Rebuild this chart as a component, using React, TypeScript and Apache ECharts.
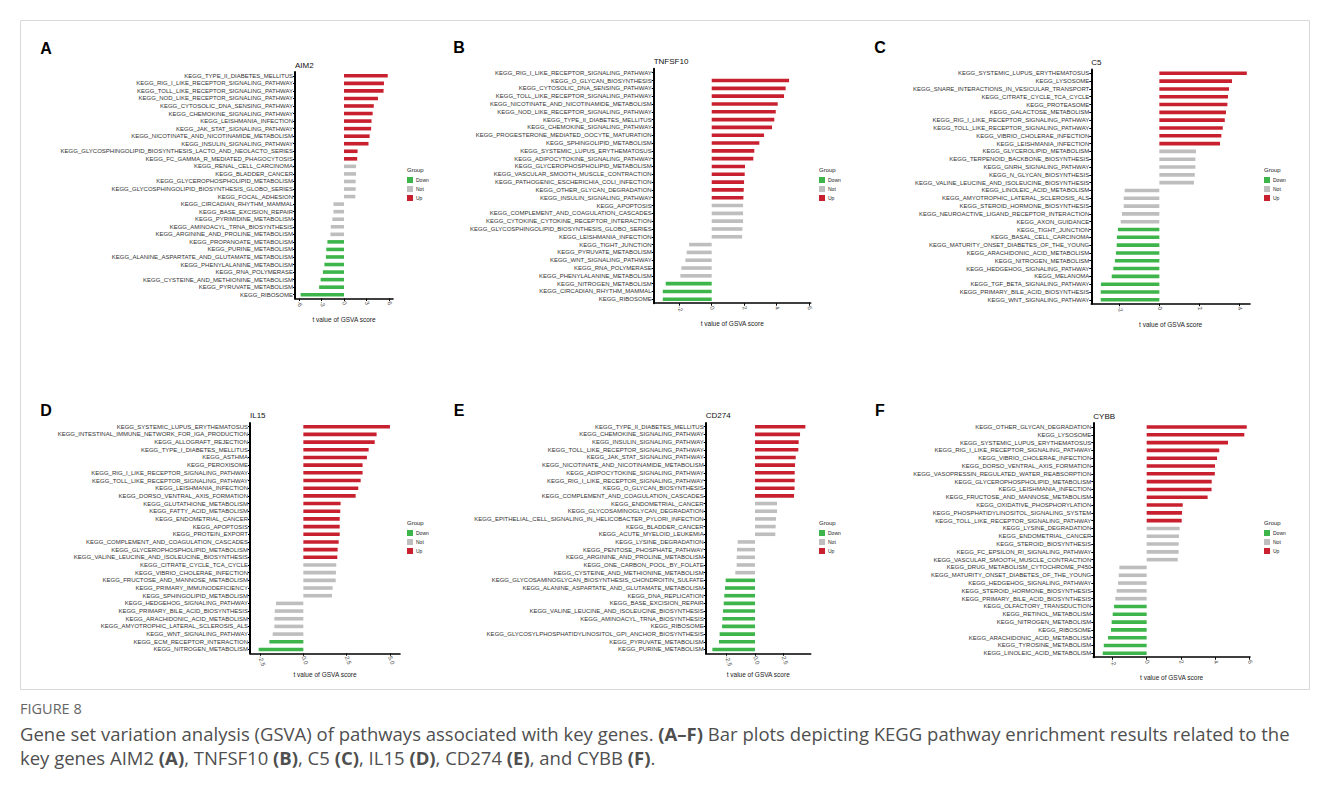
import React, { useEffect, useRef } from 'react';
import * as echarts from 'echarts';

// ---------------- DATA ----------------
const labelsA = [
  'KEGG_TYPE_II_DIABETES_MELLITUS', 'KEGG_RIG_I_LIKE_RECEPTOR_SIGNALING_PATHWAY', 'KEGG_TOLL_LIKE_RECEPTOR_SIGNALING_PATHWAY',
  'KEGG_NOD_LIKE_RECEPTOR_SIGNALING_PATHWAY', 'KEGG_CYTOSOLIC_DNA_SENSING_PATHWAY', 'KEGG_CHEMOKINE_SIGNALING_PATHWAY',
  'KEGG_LEISHMANIA_INFECTION', 'KEGG_JAK_STAT_SIGNALING_PATHWAY', 'KEGG_NICOTINATE_AND_NICOTINAMIDE_METABOLISM',
  'KEGG_INSULIN_SIGNALING_PATHWAY', 'KEGG_GLYCOSPHINGOLIPID_BIOSYNTHESIS_LACTO_AND_NEOLACTO_SERIES', 'KEGG_FC_GAMMA_R_MEDIATED_PHAGOCYTOSIS',
  'KEGG_RENAL_CELL_CARCINOMA', 'KEGG_BLADDER_CANCER', 'KEGG_GLYCEROPHOSPHOLIPID_METABOLISM',
  'KEGG_GLYCOSPHINGOLIPID_BIOSYNTHESIS_GLOBO_SERIES', 'KEGG_FOCAL_ADHESION', 'KEGG_CIRCADIAN_RHYTHM_MAMMAL',
  'KEGG_BASE_EXCISION_REPAIR', 'KEGG_PYRIMIDINE_METABOLISM', 'KEGG_AMINOACYL_TRNA_BIOSYNTHESIS',
  'KEGG_ARGININE_AND_PROLINE_METABOLISM', 'KEGG_PROPANOATE_METABOLISM', 'KEGG_PURINE_METABOLISM',
  'KEGG_ALANINE_ASPARTATE_AND_GLUTAMATE_METABOLISM', 'KEGG_PHENYLALANINE_METABOLISM', 'KEGG_RNA_POLYMERASE',
  'KEGG_CYSTEINE_AND_METHIONINE_METABOLISM', 'KEGG_PYRUVATE_METABOLISM', 'KEGG_RIBOSOME',
];
const valuesA = [5.8, 5.3, 5.25, 4.5, 3.95, 3.8, 3.65, 3.6, 3.4, 3.25, 1.8, 1.75, 1.6, 1.6, 1.55, 1.55, 1.5,
  -1.4, -1.4, -1.55, -1.75, -1.8, -2.2, -2.35, -2.4, -2.6, -2.8, -3.1, -3.3, -5.75];
const groupsA = 'UUUUUUUUUUUUNNNNNNNNNNDDDDDDDD';

const labelsB = [
  'KEGG_RIG_I_LIKE_RECEPTOR_SIGNALING_PATHWAY', 'KEGG_O_GLYCAN_BIOSYNTHESIS', 'KEGG_CYTOSOLIC_DNA_SENSING_PATHWAY',
  'KEGG_TOLL_LIKE_RECEPTOR_SIGNALING_PATHWAY', 'KEGG_NICOTINATE_AND_NICOTINAMIDE_METABOLISM', 'KEGG_NOD_LIKE_RECEPTOR_SIGNALING_PATHWAY',
  'KEGG_TYPE_II_DIABETES_MELLITUS', 'KEGG_CHEMOKINE_SIGNALING_PATHWAY', 'KEGG_PROGESTERONE_MEDIATED_OOCYTE_MATURATION',
  'KEGG_SPHINGOLIPID_METABOLISM', 'KEGG_SYSTEMIC_LUPUS_ERYTHEMATOSUS', 'KEGG_ADIPOCYTOKINE_SIGNALING_PATHWAY',
  'KEGG_GLYCEROPHOSPHOLIPID_METABOLISM', 'KEGG_VASCULAR_SMOOTH_MUSCLE_CONTRACTION', 'KEGG_PATHOGENIC_ESCHERICHIA_COLI_INFECTION',
  'KEGG_OTHER_GLYCAN_DEGRADATION', 'KEGG_INSULIN_SIGNALING_PATHWAY', 'KEGG_APOPTOSIS',
  'KEGG_COMPLEMENT_AND_COAGULATION_CASCADES', 'KEGG_CYTOKINE_CYTOKINE_RECEPTOR_INTERACTION', 'KEGG_GLYCOSPHINGOLIPID_BIOSYNTHESIS_GLOBO_SERIES',
  'KEGG_LEISHMANIA_INFECTION', 'KEGG_TIGHT_JUNCTION', 'KEGG_PYRUVATE_METABOLISM',
  'KEGG_WNT_SIGNALING_PATHWAY', 'KEGG_RNA_POLYMERASE', 'KEGG_PHENYLALANINE_METABOLISM',
  'KEGG_NITROGEN_METABOLISM', 'KEGG_CIRCADIAN_RHYTHM_MAMMAL', 'KEGG_RIBOSOME',
];
// first bar lies beyond the axis limit and is not drawn in the source figure
const valuesB = [null, 4.76, 4.55, 4.45, 4.06, 3.94, 3.85, 3.71, 3.22, 2.93, 2.62, 2.56, 2.05, 2.03, 1.99, 1.97, 1.95,
  1.93, 1.93, 1.93, 1.89, 1.87, -1.39, -1.54, -1.62, -1.87, -1.93, -2.83, -3.01, -3.01];
const groupsB = 'UUUUUUUUUUUUUUUUUNNNNNNNNNNDDD';

const labelsC = [
  'KEGG_SYSTEMIC_LUPUS_ERYTHEMATOSUS', 'KEGG_LYSOSOME', 'KEGG_SNARE_INTERACTIONS_IN_VESICULAR_TRANSPORT',
  'KEGG_CITRATE_CYCLE_TCA_CYCLE', 'KEGG_PROTEASOME', 'KEGG_GALACTOSE_METABOLISM',
  'KEGG_RIG_I_LIKE_RECEPTOR_SIGNALING_PATHWAY', 'KEGG_TOLL_LIKE_RECEPTOR_SIGNALING_PATHWAY', 'KEGG_VIBRIO_CHOLERAE_INFECTION',
  'KEGG_LEISHMANIA_INFECTION', 'KEGG_GLYCEROLIPID_METABOLISM', 'KEGG_TERPENOID_BACKBONE_BIOSYNTHESIS',
  'KEGG_GNRH_SIGNALING_PATHWAY', 'KEGG_N_GLYCAN_BIOSYNTHESIS', 'KEGG_VALINE_LEUCINE_AND_ISOLEUCINE_BIOSYNTHESIS',
  'KEGG_LINOLEIC_ACID_METABOLISM', 'KEGG_AMYOTROPHIC_LATERAL_SCLEROSIS_ALS', 'KEGG_STEROID_HORMONE_BIOSYNTHESIS',
  'KEGG_NEUROACTIVE_LIGAND_RECEPTOR_INTERACTION', 'KEGG_AXON_GUIDANCE', 'KEGG_TIGHT_JUNCTION',
  'KEGG_BASAL_CELL_CARCINOMA', 'KEGG_MATURITY_ONSET_DIABETES_OF_THE_YOUNG', 'KEGG_ARACHIDONIC_ACID_METABOLISM',
  'KEGG_NITROGEN_METABOLISM', 'KEGG_HEDGEHOG_SIGNALING_PATHWAY', 'KEGG_MELANOMA',
  'KEGG_TGF_BETA_SIGNALING_PATHWAY', 'KEGG_PRIMARY_BILE_ACID_BIOSYNTHESIS', 'KEGG_WNT_SIGNALING_PATHWAY',
];
const valuesC = [4.37, 3.63, 3.48, 3.43, 3.4, 3.33, 3.27, 3.17, 3.1, 3.03, 1.83, 1.8, 1.8, 1.77, 1.73,
  -1.73, -1.78, -1.78, -1.87, -1.93, -2.07, -2.12, -2.13, -2.17, -2.22, -2.3, -2.38, -2.92, -2.93, -2.93];
const groupsC = 'UUUUUUUUUUNNNNNNNNNNDDDDDDDDDD';

const labelsD = [
  'KEGG_SYSTEMIC_LUPUS_ERYTHEMATOSUS', 'KEGG_INTESTINAL_IMMUNE_NETWORK_FOR_IGA_PRODUCTION', 'KEGG_ALLOGRAFT_REJECTION',
  'KEGG_TYPE_I_DIABETES_MELLITUS', 'KEGG_ASTHMA', 'KEGG_PEROXISOME',
  'KEGG_RIG_I_LIKE_RECEPTOR_SIGNALING_PATHWAY', 'KEGG_TOLL_LIKE_RECEPTOR_SIGNALING_PATHWAY', 'KEGG_LEISHMANIA_INFECTION',
  'KEGG_DORSO_VENTRAL_AXIS_FORMATION', 'KEGG_GLUTATHIONE_METABOLISM', 'KEGG_FATTY_ACID_METABOLISM',
  'KEGG_ENDOMETRIAL_CANCER', 'KEGG_APOPTOSIS', 'KEGG_PROTEIN_EXPORT',
  'KEGG_COMPLEMENT_AND_COAGULATION_CASCADES', 'KEGG_GLYCEROPHOSPHOLIPID_METABOLISM', 'KEGG_VALINE_LEUCINE_AND_ISOLEUCINE_BIOSYNTHESIS',
  'KEGG_CITRATE_CYCLE_TCA_CYCLE', 'KEGG_VIBRIO_CHOLERAE_INFECTION', 'KEGG_FRUCTOSE_AND_MANNOSE_METABOLISM',
  'KEGG_PRIMARY_IMMUNODEFICIENCY', 'KEGG_SPHINGOLIPID_METABOLISM', 'KEGG_HEDGEHOG_SIGNALING_PATHWAY',
  'KEGG_PRIMARY_BILE_ACID_BIOSYNTHESIS', 'KEGG_ARACHIDONIC_ACID_METABOLISM', 'KEGG_AMYOTROPHIC_LATERAL_SCLEROSIS_ALS',
  'KEGG_WNT_SIGNALING_PATHWAY', 'KEGG_ECM_RECEPTOR_INTERACTION', 'KEGG_NITROGEN_METABOLISM',
];
const valuesD = [5.0, 4.23, 4.12, 3.77, 3.67, 3.42, 3.42, 3.31, 3.17, 3.02, 2.15, 2.13, 2.1, 2.1, 2.1, 2.04, 1.98, 1.96,
  1.9, 1.88, 1.87, 1.69, 1.65, -1.58, -1.65, -1.67, -1.67, -1.77, -1.96, -2.58];
const groupsD = 'UUUUUUUUUUUUUUUUUUNNNNNNNNNNDD';

const labelsE = [
  'KEGG_TYPE_II_DIABETES_MELLITUS', 'KEGG_CHEMOKINE_SIGNALING_PATHWAY', 'KEGG_INSULIN_SIGNALING_PATHWAY',
  'KEGG_TOLL_LIKE_RECEPTOR_SIGNALING_PATHWAY', 'KEGG_JAK_STAT_SIGNALING_PATHWAY', 'KEGG_NICOTINATE_AND_NICOTINAMIDE_METABOLISM',
  'KEGG_ADIPOCYTOKINE_SIGNALING_PATHWAY', 'KEGG_RIG_I_LIKE_RECEPTOR_SIGNALING_PATHWAY', 'KEGG_O_GLYCAN_BIOSYNTHESIS',
  'KEGG_COMPLEMENT_AND_COAGULATION_CASCADES', 'KEGG_ENDOMETRIAL_CANCER', 'KEGG_GLYCOSAMINOGLYCAN_DEGRADATION',
  'KEGG_EPITHELIAL_CELL_SIGNALING_IN_HELICOBACTER_PYLORI_INFECTION', 'KEGG_BLADDER_CANCER', 'KEGG_ACUTE_MYELOID_LEUKEMIA',
  'KEGG_LYSINE_DEGRADATION', 'KEGG_PENTOSE_PHOSPHATE_PATHWAY', 'KEGG_ARGININE_AND_PROLINE_METABOLISM',
  'KEGG_ONE_CARBON_POOL_BY_FOLATE', 'KEGG_CYSTEINE_AND_METHIONINE_METABOLISM', 'KEGG_GLYCOSAMINOGLYCAN_BIOSYNTHESIS_CHONDROITIN_SULFATE',
  'KEGG_ALANINE_ASPARTATE_AND_GLUTAMATE_METABOLISM', 'KEGG_DNA_REPLICATION', 'KEGG_BASE_EXCISION_REPAIR',
  'KEGG_VALINE_LEUCINE_AND_ISOLEUCINE_BIOSYNTHESIS', 'KEGG_AMINOACYL_TRNA_BIOSYNTHESIS', 'KEGG_RIBOSOME',
  'KEGG_GLYCOSYLPHOSPHATIDYLINOSITOL_GPI_ANCHOR_BIOSYNTHESIS', 'KEGG_PYRUVATE_METABOLISM', 'KEGG_PURINE_METABOLISM',
];
const valuesE = [4.44, 3.97, 3.85, 3.82, 3.59, 3.53, 3.5, 3.5, 3.49, 3.44, 1.94, 1.94, 1.85, 1.82, 1.79,
  -1.53, -1.59, -1.62, -1.62, -1.74, -2.59, -2.65, -2.71, -2.76, -2.82, -2.88, -2.91, -3.12, -3.18, -3.76];
const groupsE = 'UUUUUUUUUUNNNNNNNNNNDDDDDDDDDD';

const labelsF = [
  'KEGG_OTHER_GLYCAN_DEGRADATION', 'KEGG_LYSOSOME', 'KEGG_SYSTEMIC_LUPUS_ERYTHEMATOSUS',
  'KEGG_RIG_I_LIKE_RECEPTOR_SIGNALING_PATHWAY', 'KEGG_VIBRIO_CHOLERAE_INFECTION', 'KEGG_DORSO_VENTRAL_AXIS_FORMATION',
  'KEGG_VASOPRESSIN_REGULATED_WATER_REABSORPTION', 'KEGG_GLYCEROPHOSPHOLIPID_METABOLISM', 'KEGG_LEISHMANIA_INFECTION',
  'KEGG_FRUCTOSE_AND_MANNOSE_METABOLISM', 'KEGG_OXIDATIVE_PHOSPHORYLATION', 'KEGG_PHOSPHATIDYLINOSITOL_SIGNALING_SYSTEM',
  'KEGG_TOLL_LIKE_RECEPTOR_SIGNALING_PATHWAY', 'KEGG_LYSINE_DEGRADATION', 'KEGG_ENDOMETRIAL_CANCER',
  'KEGG_STEROID_BIOSYNTHESIS', 'KEGG_FC_EPSILON_RI_SIGNALING_PATHWAY', 'KEGG_VASCULAR_SMOOTH_MUSCLE_CONTRACTION',
  'KEGG_DRUG_METABOLISM_CYTOCHROME_P450', 'KEGG_MATURITY_ONSET_DIABETES_OF_THE_YOUNG', 'KEGG_HEDGEHOG_SIGNALING_PATHWAY',
  'KEGG_STEROID_HORMONE_BIOSYNTHESIS', 'KEGG_PRIMARY_BILE_ACID_BIOSYNTHESIS', 'KEGG_OLFACTORY_TRANSDUCTION',
  'KEGG_RETINOL_METABOLISM', 'KEGG_NITROGEN_METABOLISM', 'KEGG_RIBOSOME',
  'KEGG_ARACHIDONIC_ACID_METABOLISM', 'KEGG_TYROSINE_METABOLISM', 'KEGG_LINOLEIC_ACID_METABOLISM',
];
const valuesF = [5.83, 5.69, 4.74, 4.23, 4.1, 3.98, 3.97, 3.79, 3.78, 3.55, 2.1, 2.06, 2.04, 1.92, 1.88, 1.86, 1.86, 1.81,
  -1.59, -1.63, -1.67, -1.75, -1.83, -1.9, -1.98, -2.04, -2.08, -2.25, -2.5, -2.56];
const groupsF = 'UUUUUUUUUUUUUNNNNNNNNNNDDDDDDD';

const genes = ['AIM2', 'TNFSF10', 'C5', 'IL15', 'CD274', 'CYBB'];
const panelLetters = ['A', 'B', 'C', 'D', 'E', 'F'];
const groupNames = ['Down', 'Not', 'Up'];
const ticksA = [-6, -3, 0, 3, 6];
const ticksB = [-2, 0, 2, 4, 6];
const ticksC = [-2, 0, 2, 4];
const ticksD = [-2.5, 0, 2.5, 5];
const ticksE = [-2.5, 0, 2.5];
const ticksF = [-2, 0, 2, 4, 6];
const xTitle = 't value of GSVA score';

// ---------------- STYLE / LAYOUT ----------------
const COLORS: Record<string, string> = { Down: '#3DB54A', Not: '#BEBEBE', Up: '#C8202E' };
const CODE: Record<string, string> = { U: 'Up', N: 'Not', D: 'Down' };
const FONT = '"Liberation Sans", Arial, sans-serif';
const CAPFONT = '"Open Sans", "Noto Sans", sans-serif';

const layouts = [
  { left: 295, right: 393, top: 72, height: 226.5, min: -6.5, max: 6.5, dec: 0, letterX: 46, letterY: 48, legX: 407, legY: 166 },
  { left: 653.7, right: 810.7, top: 68.8, height: 234.4, min: -3.57, max: 6.09, dec: 0, letterX: 459, letterY: 47, legX: 819, legY: 166 },
  { left: 1091.3, right: 1250, top: 69.4, height: 234.3, min: -3.4, max: 4.53, dec: 0, letterX: 880, letterY: 47, legX: 1264, legY: 166 },
  { left: 250, right: 400, top: 422.9, height: 230.4, min: -3.08, max: 5.58, dec: 1, letterX: 46, letterY: 410, legX: 407, legY: 519 },
  { left: 705.7, right: 810.7, top: 422.9, height: 230.4, min: -4.35, max: 4.91, dec: 1, letterX: 459, letterY: 410, legX: 819, legY: 519 },
  { left: 1093.3, right: 1250, top: 423.1, height: 234.1, min: -3.11, max: 6.02, dec: 0, letterX: 880, letterY: 410, legX: 1264, legY: 519 },
];

function buildOption() {
  const panels = [
    { labels: labelsA, values: valuesA, groups: groupsA, ticks: ticksA },
    { labels: labelsB, values: valuesB, groups: groupsB, ticks: ticksB },
    { labels: labelsC, values: valuesC, groups: groupsC, ticks: ticksC },
    { labels: labelsD, values: valuesD, groups: groupsD, ticks: ticksD },
    { labels: labelsE, values: valuesE, groups: groupsE, ticks: ticksE },
    { labels: labelsF, values: valuesF, groups: groupsF, ticks: ticksF },
  ];
  const grid: any[] = [];
  const xAxis: any[] = [];
  const yAxis: any[] = [];
  const series: any[] = [];
  const legend: any[] = [];
  const graphic: any[] = [];

  panels.forEach((p, i) => {
    const L = layouts[i];
    grid.push({ left: L.left, top: L.top, width: L.right - L.left, height: L.height });
    xAxis.push({
      type: 'value', gridIndex: i, min: L.min, max: L.max,
      name: xTitle, nameLocation: 'middle', nameGap: 17,
      nameTextStyle: { fontSize: 6.5, color: '#222', fontFamily: FONT },
      axisLine: { show: true, onZero: false, lineStyle: { color: '#000', width: 1.6 } },
      axisTick: { show: true, length: 2.5, customValues: p.ticks, lineStyle: { color: '#000', width: 1 } },
      axisLabel: {
        customValues: p.ticks, rotate: -70, fontSize: 6, color: '#4d4d4d', fontFamily: FONT, margin: 3,
        formatter: (v: number) => v.toFixed(L.dec),
      },
      splitLine: { show: false },
    });
    yAxis.push({
      type: 'category', gridIndex: i, data: p.labels, inverse: true,
      axisLine: { show: true, onZero: false, lineStyle: { color: '#000', width: 2 } },
      axisTick: { show: true, length: 2, alignWithLabel: true, lineStyle: { color: '#000', width: 1 } },
      axisLabel: { interval: 0, fontSize: 6, color: '#333', fontFamily: FONT, margin: 2 },
      splitLine: { show: false },
    });
    groupNames.forEach((g) => {
      series.push({
        type: 'bar', name: g, xAxisIndex: i, yAxisIndex: i, stack: 'p' + i,
        barWidth: 3.6, itemStyle: { color: COLORS[g] },
        data: p.values.map((v, j) => (CODE[p.groups[j]] === g ? v : null)),
      });
    });
    legend.push({
      left: L.legX, top: L.legY + 11, orient: 'vertical', icon: 'rect', itemWidth: 6, itemHeight: 6, itemGap: 3,
      padding: 0, selectedMode: false, data: groupNames,
      textStyle: { fontSize: 5, color: '#222', fontFamily: FONT, padding: [0, 0, 0, -2] },
    });
    graphic.push({
      type: 'text', x: L.legX, y: L.legY + 4,
      style: { text: 'Group', fontSize: 6, fill: '#222', fontFamily: FONT, verticalAlign: 'middle' },
    });
    graphic.push({
      type: 'text', x: L.left, y: L.top - 7,
      style: { text: genes[i], fontSize: 8, fill: '#111', fontFamily: FONT, verticalAlign: 'middle' },
    });
    graphic.push({
      type: 'text', x: L.letterX, y: L.letterY,
      style: { text: panelLetters[i], fontSize: 16, fontWeight: 'bold', fill: '#000', fontFamily: FONT, align: 'center', verticalAlign: 'middle' },
    });
  });

  graphic.push({
    type: 'rect', shape: { x: 20.5, y: 20.5, width: 1289, height: 669 },
    style: { fill: 'none', stroke: '#d8d8d8', lineWidth: 1 }, z: -1,
  });
  graphic.push({
    type: 'text', x: 20, y: 708,
    style: { text: 'FIGURE 8', fontSize: 14.5, fill: '#666', fontFamily: CAPFONT, verticalAlign: 'middle' },
  });
  graphic.push({
    type: 'text', x: 20, y: 733,
    style: {
      text: 'Gene set variation analysis (GSVA) of pathways associated with key genes. {b|(A–F)} Bar plots depicting KEGG pathway enrichment results related to the',
      fontSize: 18.5, fill: '#4f4f4f', fontFamily: CAPFONT, verticalAlign: 'middle',
      rich: { b: { fontWeight: 'bold', fontSize: 18.5, fill: '#4f4f4f', fontFamily: CAPFONT } },
    },
  });
  graphic.push({
    type: 'text', x: 20, y: 757,
    style: {
      text: 'key genes AIM2 {b|(A)}, TNFSF10 {b|(B)}, C5 {b|(C)}, IL15 {b|(D)}, CD274 {b|(E)}, and CYBB {b|(F)}.',
      fontSize: 18.5, fill: '#4f4f4f', fontFamily: CAPFONT, verticalAlign: 'middle',
      rich: { b: { fontWeight: 'bold', fontSize: 18.5, fill: '#4f4f4f', fontFamily: CAPFONT } },
    },
  });

  return {
    animation: false,
    backgroundColor: '#fff',
    textStyle: { fontFamily: FONT },
    grid, xAxis, yAxis, series, legend, graphic,
  };
}

export default function App() {
  const ref = useRef<HTMLDivElement>(null);
  useEffect(() => {
    if (!ref.current) return;
    const chart = echarts.init(ref.current, null, { renderer: 'svg' });
    chart.setOption(buildOption());
    return () => chart.dispose();
  }, []);
  return <div ref={ref} style={{ position: 'absolute', left: 0, top: 0, width: 1328, height: 796 }} />;
}
